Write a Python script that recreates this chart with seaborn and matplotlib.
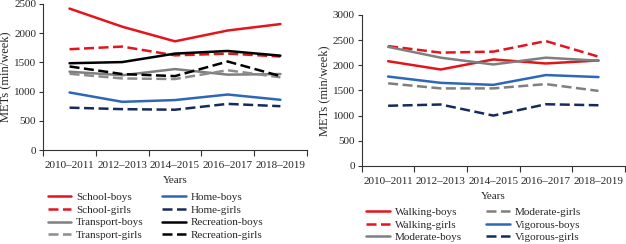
import pandas as pd
import numpy as np
import matplotlib
matplotlib.use("Agg")
import matplotlib.pyplot as plt
import seaborn as sns

years = ["2010–2011", "2012–2013", "2014–2015", "2016–2017", "2018–2019"]

# left panel: domains
school_boys = [2420, 2110, 1860, 2045, 2155]
school_girls = [1725, 1770, 1620, 1650, 1600]
transport_boys = [1340, 1280, 1385, 1290, 1300]
transport_girls = [1305, 1225, 1215, 1365, 1245]
home_boys = [985, 825, 855, 950, 860]
home_girls = [725, 700, 690, 790, 750]
recreation_boys = [1485, 1505, 1650, 1695, 1615]
recreation_girls = [1430, 1300, 1265, 1515, 1265]

# right panel: intensity
walking_boys = [2080, 1915, 2115, 2035, 2095]
walking_girls = [2380, 2250, 2270, 2480, 2170]
moderate_boys = [2365, 2150, 2015, 2150, 2090]
moderate_girls = [1640, 1540, 1540, 1625, 1490]
vigorous_boys = [1775, 1650, 1610, 1805, 1765]
vigorous_girls = [1195, 1220, 1000, 1225, 1205]

RED = "#e3141c"
BLUE = "#2e67b8"
NAVY = "#162a5c"
GRAY = "#7f7f7f"
LGRAY = "#8c8c8c"
BLACK = "#000000"
DASH = (4, 1.8)

left_series = [
    ("School-boys", school_boys, RED, "solid"),
    ("School-girls", school_girls, RED, "dash"),
    ("Transport-boys", transport_boys, GRAY, "solid"),
    ("Transport-girls", transport_girls, LGRAY, "dash"),
    ("Home-boys", home_boys, BLUE, "solid"),
    ("Home-girls", home_girls, NAVY, "dash"),
    ("Recreation-boys", recreation_boys, BLACK, "solid"),
    ("Recreation-girls", recreation_girls, BLACK, "dash"),
]
right_series = [
    ("Walking-boys", walking_boys, RED, "solid"),
    ("Walking-girls", walking_girls, RED, "dash"),
    ("Moderate-boys", moderate_boys, GRAY, "solid"),
    ("Moderate-girls", moderate_girls, GRAY, "dash"),
    ("Vigorous-boys", vigorous_boys, BLUE, "solid"),
    ("Vigorous-girls", vigorous_girls, NAVY, "dash"),
]

sns.set_style("white")
plt.rcParams["font.family"] = ["Liberation Serif", "DejaVu Serif"]
plt.rcParams["font.size"] = 8

fig = plt.figure(figsize=(6.26, 2.44), dpi=100)
ax1 = fig.add_axes([0.069, 0.385, 0.421, 0.599])
ax2 = fig.add_axes([0.578, 0.320, 0.420, 0.619])


def draw(ax, series, ymax, legend_anchor, colspace):
    for name, vals, color, style in series:
        df = pd.DataFrame({"Years": years, "val": vals})
        sns.lineplot(data=df, x="Years", y="val", ax=ax, color=color,
                     linewidth=1.8, label=name, sort=False)
        ln = ax.get_lines()[-1]
        if style == "dash":
            ln.set_dashes(DASH)
    ax.set_xlim(-0.5, 4.5)
    ax.set_ylim(0, ymax)
    ax.set_yticks(np.arange(0, ymax + 1, 500))
    ax.set_xticks(range(5))
    ax.set_xticklabels(years)
    ax.set_xticks(np.arange(-0.5, 5, 1), minor=True)
    ax.tick_params(axis="x", which="major", length=0, pad=8, labelsize=8)
    ax.tick_params(axis="x", which="minor", length=4, width=0.8, color="#333333", direction="out")
    ax.tick_params(axis="y", length=3, width=0.8, color="#333333", direction="out", labelsize=8, pad=2)
    ax.tick_params(bottom=True, left=True, which="both")
    for s in ["top", "right"]:
        ax.spines[s].set_visible(False)
    for s in ["left", "bottom"]:
        ax.spines[s].set_color("#333333")
        ax.spines[s].set_linewidth(0.8)
    ax.set_xlabel("Years", fontsize=8, labelpad=4)
    ax.set_ylabel("METs (min/week)", fontsize=9, labelpad=2)
    handles, labels = ax.get_legend_handles_labels()
    ax.legend(handles, labels, ncol=2, loc="upper left", bbox_to_anchor=legend_anchor,
              frameon=False, fontsize=8, handlelength=2.1, handletextpad=0.45,
              columnspacing=colspace, labelspacing=0.25, borderaxespad=0)


draw(ax1, left_series, 2500, (0.0, -0.26), 1.7)
draw(ax2, right_series, 3000, (0.0, -0.245), 2.2)

fig.savefig("out.png", dpi=100)
